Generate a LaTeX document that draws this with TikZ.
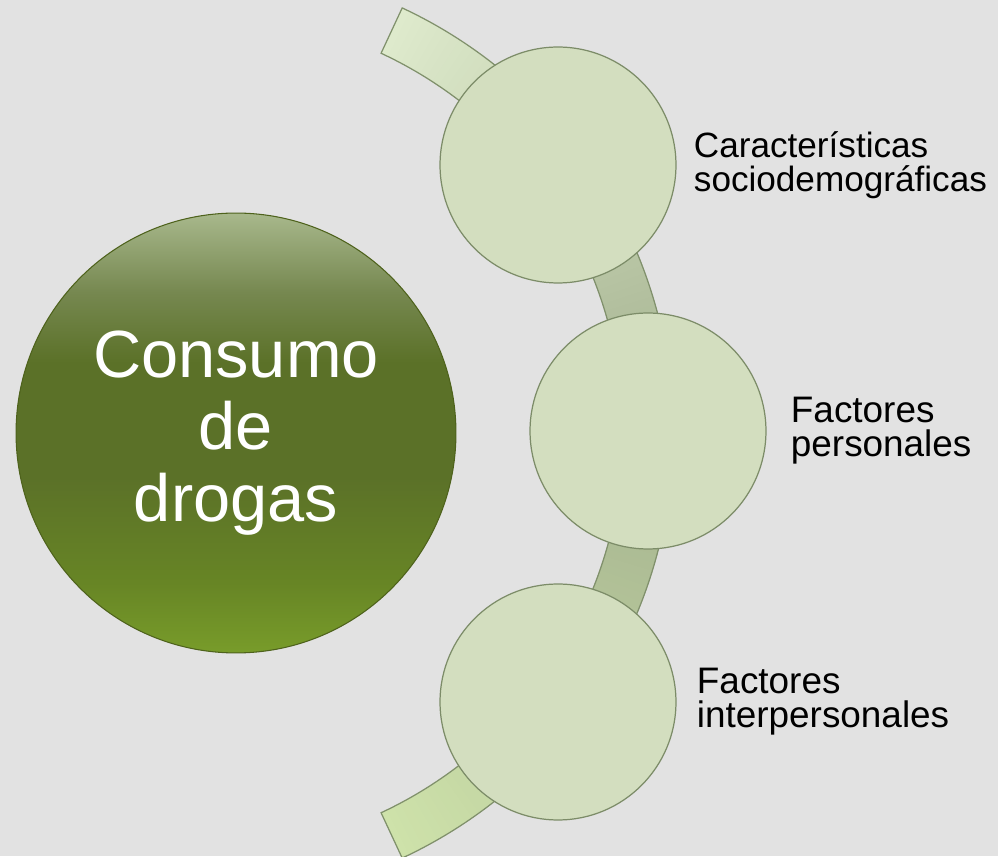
\documentclass[tikz,border=0pt]{standalone}
\usepackage{fontspec}
\setmainfont{Liberation Sans}
\usetikzlibrary{calc}
\usetikzlibrary{positioning}
\definecolor{backgray}{RGB}{226, 226, 226}
\definecolor{ringtop}{RGB}{222, 234, 204}
\definecolor{ringmid}{RGB}{163, 177, 142}
\definecolor{ringbot}{RGB}{206, 226, 170}
\definecolor{ringline}{RGB}{128, 144, 108}
\definecolor{leaffill}{RGB}{211, 222, 191}
\definecolor{leafline}{RGB}{124, 140, 104}
\definecolor{hubtop}{RGB}{168, 184, 140}
\definecolor{hubupper}{RGB}{118, 136, 80}
\definecolor{hubmid}{RGB}{91, 113, 40}
\definecolor{hublow}{RGB}{103, 133, 37}
\definecolor{hubbot}{RGB}{120, 156, 42}
\definecolor{hubline}{RGB}{78, 98, 28}
\pgfdeclareverticalshading{hubshade}{100bp}{color(0bp)=(hubbot); color(25bp)=(hubbot); color(33bp)=(hublow); color(45bp)=(hubmid); color(58bp)=(hubmid); color(66bp)=(hubupper); color(75bp)=(hubtop); color(100bp)=(hubtop)}

\begin{document}
\begin{tikzpicture}[x=0.02cm, y=0.02cm]

\tikzstyle{leaf} = [circle, draw=leafline, fill=leaffill, line width=0.7pt, minimum size=4.72cm, inner sep=0pt]
\tikzstyle{hub} = [circle, draw=hubline, shade, shading=hubshade, line width=0.6pt, minimum size=8.8cm, inner sep=0pt, text=white, align=center, font=\fontsize{38}{41}\selectfont]
\tikzstyle{factor} = [align=left, inner sep=0pt, font=\fontsize{21}{19.5}\selectfont]

\useasboundingbox (0,0) rectangle (998,856);
\fill[backgray] (0,0) rectangle (998,856);

\coordinate (ring) at (204,423);

\foreach \a in {-65,...,64}{
  \pgfmathsetmacro\p{100*abs(\a+0.5)/65}
  \ifnum\a<0 \colorlet{slice}{ringbot!\p!ringmid}\else\colorlet{slice}{ringtop!\p!ringmid}\fi
  \filldraw[fill=slice, draw=slice, line width=0.4pt] ($(ring)+(\a:419)$) arc[start angle=\a, end angle=\a+1, radius=419]
    -- ($(ring)+(\a+1:469)$) arc[start angle=\a+1, end angle=\a, radius=469] -- cycle;
}
\draw[ringline, line width=0.7pt] ($(ring)+(65:419)$) arc[start angle=65, end angle=-65, radius=419]
  -- ($(ring)+(-65:469)$) arc[start angle=-65, end angle=65, radius=469] -- cycle;

\node[hub] (consumo) at (236,423) {Consumo\\de\\drogas};

\node[leaf] (socio) at (558,691) {};
\node[leaf] (personal) at (648,425) {};
\node[leaf] (inter) at (558,154) {};

\node[factor, right=0.34cm of socio, font=\fontsize{20}{19.5}\selectfont] (sociotext) {Características\\sociodemográficas};
\node[factor, right=0.48cm of personal] (personaltext) {Factores\\personales};
\node[factor, right=0.4cm of inter] (intertext) {Factores\\interpersonales};

\end{tikzpicture}
\end{document}
